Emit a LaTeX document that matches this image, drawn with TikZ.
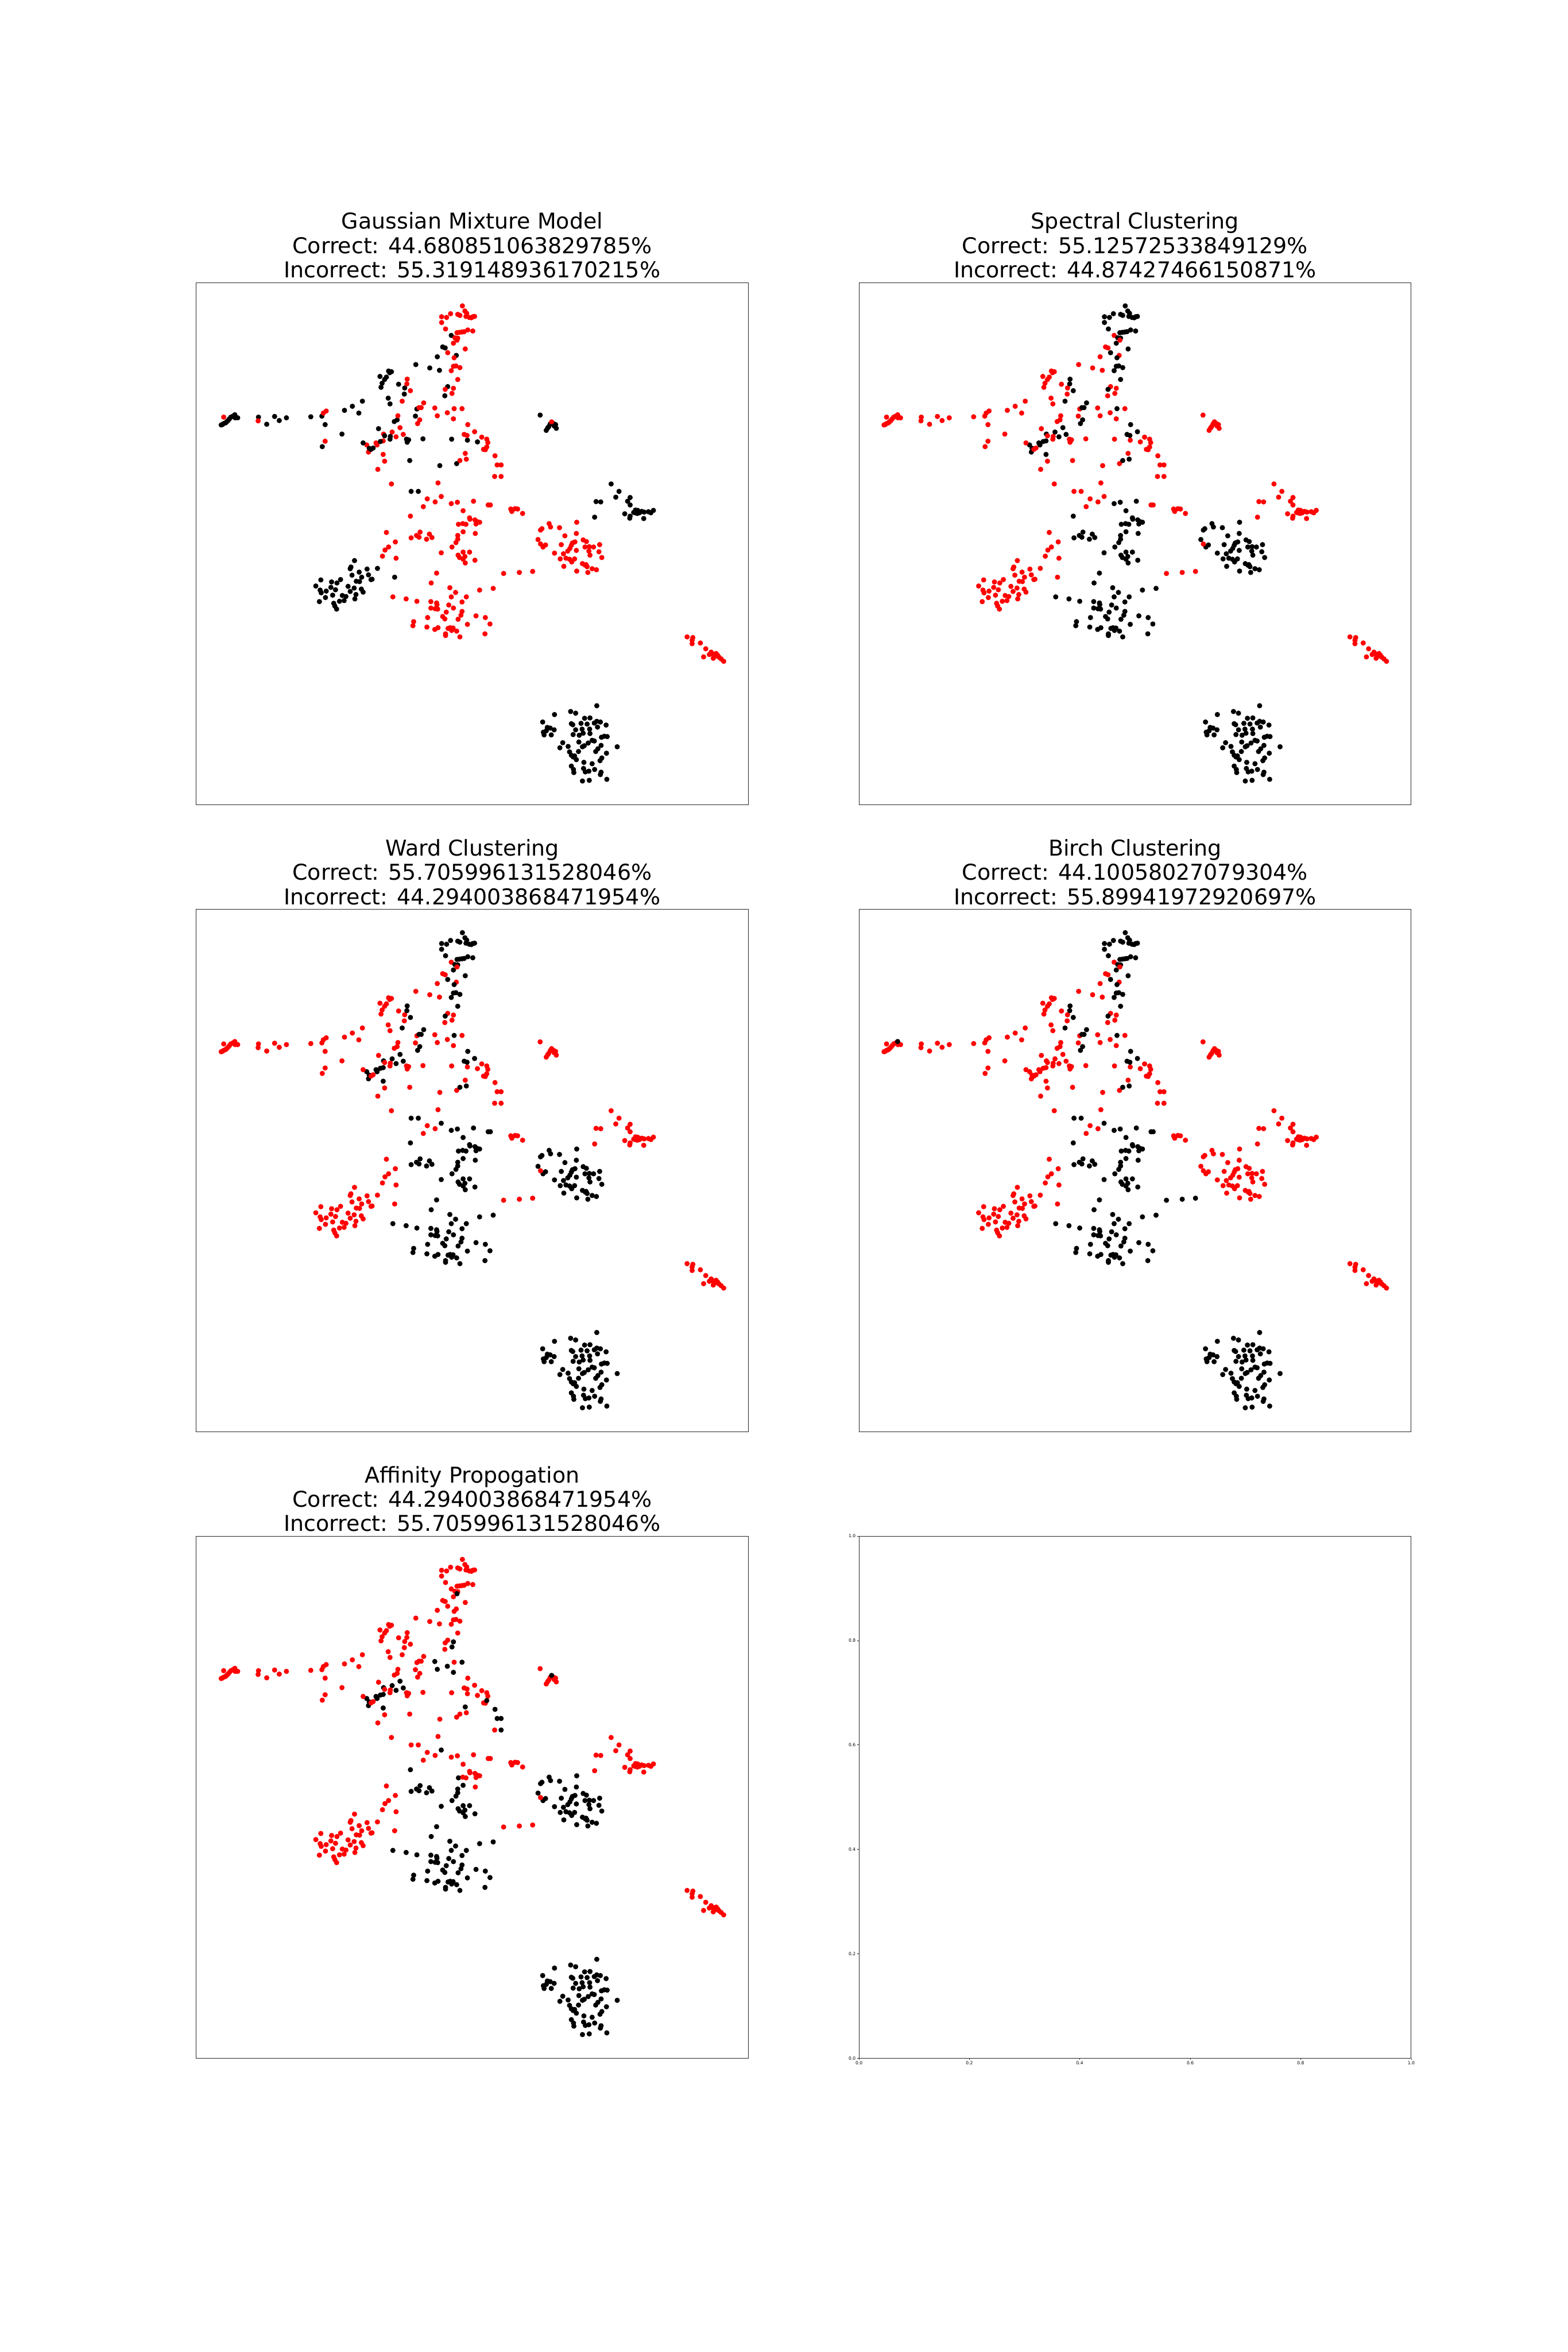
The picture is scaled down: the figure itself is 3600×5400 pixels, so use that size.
\documentclass[tikz,border=0pt]{standalone}
\usepackage{fontspec}
\setmainfont{DejaVu Sans}
\usepackage{tikz}

\colorlet{ptr}{red}
\colorlet{ptb}{black}

\tikzset{
  axframe/.style={draw=black!85, line width=0.011cm},
  ttl/.style={font=\fontsize{14.23}{17}\selectfont, anchor=base, inner sep=0pt},
  ticklab/.style={font=\fontsize{2.85}{3.4}\selectfont, inner sep=0pt},
  tickmark/.style={black!85, line width=0.009cm},
  dot/.style={radius=0.06cm},
}

\newcommand{\pickcol}[6]{\ifcase#1\or#2\or#3\or#4\or#5\or#6\fi}
\newcommand{\grp}[3]{%
  \edef\dotcol{\pickcol{#1}#2}%
  \foreach \px/\py in {#3}{\fill[pt\dotcol, dot] (\px,\py) circle;}%
}

\newcommand{\allpoints}[1]{%
  \grp{#1}{bbbbb}{1133/1259, 1015/1285, 1060/1276, 1074/1281, 982/1307, 1099/1296, 1114/1295, 1062/1312, 1066/1315, 1089/1311, 1106/1313, 1126/1310, 1133/1305, 1143/1307, 1159/1316, 995/1323, 1003/1325, 1014/1330, 992/1333, 984/1337, 986/1345, 1006/1345, 1074/1330, 1092/1328, 1113/1328, 1135/1322, 1067/1344, 1084/1346, 1095/1340, 1114/1341, 1154/1349, 1162/1350, 1146/1352, 1038/1368, 1053/1379, 1030/1383, 1083/1366, 1098/1377, 1093/1380, 1109/1369, 1120/1361, 1126/1363, 1145/1376, 1190/1380, 1057/1395, 1082/1394, 1130/1394, 1136/1386, 1160/1399, 1062/1405, 1067/1410, 1071/1407, 1076/1418, 1147/1413, 1142/1421, 1097/1426, 1120/1430, 1062/1437, 1068/1447, 1096/1444, 1111/1452, 1101/1454, 1127/1447, 1145/1455, 1069/1456, 1093/1481, 1112/1479, 1161/1476, 1143/1462}%
  \grp{#1}{rbbbb}{686/868, 671/897, 723/911, 739/925, 769/938, 727/938, 564/938, 601/944, 631/951, 670/952, 686/956, 687/961, 670/971, 682/973, 689/974, 720/962, 733/971, 757/953, 757/981, 713/983, 703/996, 709/1003, 661/999, 746/1004, 754/992, 796/994, 822/999, 772/1019, 835/1018, 622/1011, 620/1023, 659/1027, 690/1029, 681/1034, 718/1031, 724/1029, 732/1030, 728/1037, 742/1039, 711/1047, 711/1052, 751/1056, 821/1047, 806/918, 844/913, 613/700, 747/724, 760/746, 745/757, 640/747, 630/757, 615/764, 637/762, 666/753, 658/768, 673/763, 745/768, 740/778, 729/791, 699/808, 760/806, 778/806, 746/815, 750/822, 765/819, 760/827, 766/838, 793/830}%
  \grp{#1}{rbbrb}{1077/718, 1000/722, 1004/732, 976/741, 980/737, 1029/734, 1076/751, 1044/758, 1034/784, 969/769, 990/785, 983/791, 1065/779, 1072/776, 1062/786, 1058/795, 1052/803, 1040/811, 1095/770, 1104/775, 1100/791, 1112/790, 1124/791, 1141/784, 1076/801, 1111/803, 1139/805, 1147/822, 1114/815, 1047/824, 1031/826, 1057/827, 1071/826, 1063/835, 1041/848, 1093/840, 1103/843, 1106/849, 1101/845, 1077/862, 1108/866, 1120/855, 1132/858, 1015/809, 584/439, 562/452, 573/466, 593/459, 538/458, 537/478, 517/484, 520/490, 491/490, 496/511, 537/518}%
  \grp{#1}{bbbrb}{498/500, 529/480}%
  \grp{#1}{brrrr}{1173/605, 1195/627, 1186/644, 1226/645, 1219/656, 1226/667, 1131/657, 1144/658, 1127/703, 1211/693, 1226/700, 1225/706, 1236/689, 1241/682, 1247/683, 1252/690, 1258/686, 1265/688, 1277/687, 1284/690, 1291/683, 1264/707, 1246/692, 1240/690}%
  \grp{#1}{brrrr}{457/831, 447/850, 445/855, 492/856, 470/865, 450/874, 477/880, 496/873, 503/887, 506/886, 462/892, 471/893, 363/888, 393/894, 408/897, 418/887, 349/906, 391/910, 404/917, 439/907, 456/912, 476/915, 481/924, 361/918, 364/926, 378/921, 445/922, 461/931, 396/933, 423/934, 433/937, 376/940, 359/952, 415/951, 428/949, 458/944, 399/957, 402/965, 407/974, 521/854, 569/880}%
  \grp{#1}{brrrr}{975/402, 1012/427, 1018/430, 1003/428, 999/436, 996/440, 992/447, 1020/441, 1014/434}%
  \grp{#1}{brrrr}{85/431, 88/430, 92/427, 97/425, 100/422, 104/418, 108/413, 112/408, 118/405, 124/410, 131/410, 189/408, 212/429, 234/406, 247/418, 267/410, 335/407, 366/405, 375/430, 367/495, 422/458, 429/388, 451/376, 479/361, 469/396}%
  \grp{#1}{brrrr}{528/288, 534/308, 531/320, 541/297, 546/290, 555/277, 560/274, 552/272, 580/311, 597/322, 596/340, 551/352, 556/369, 631/384, 627/405, 576/416, 568/421, 524/442, 541/463, 557/465, 556/473, 602/473, 608/475, 604/482, 648/472, 611/536, 481/484, 503/503, 509/499}%
  \grp{#1}{brrrr}{727/167, 703/201, 710/204, 688/230, 741/226, 628/253, 667/263, 694/270, 717/318, 709/345, 728/473, 772/476, 800/481, 742/545, 695/551}%
  \grp{#1}{rrrrr}{1385/1056, 1401/1058, 1399/1066, 1399/1076, 1422/1074, 1437/1091, 1452/1101, 1447/1108, 1456/1106, 1466/1105, 1463/1113, 1431/1115, 1458/1119, 1474/1116, 1480/1121, 1487/1128, 1470/1110}%
  \grp{#1}{rrrrr}{92/408, 188/419, 370/396, 378/390, 375/479, 560/605, 690/602, 660/649, 682/658, 649/672, 546/748, 571/776, 552/791, 542/800, 535/818, 573/824, 893/679, 905/678, 912/679, 896/686, 926/692, 976/782, 812/467, 826/473, 829/483, 822/504, 817/503, 848/583, 541/538, 522/562, 578/404}%
  \grp{#1}{rbbbr}{758/80, 725/103, 745/105, 751/108, 765/95, 770/102, 768/111, 777/114, 787/112, 792/111, 783/115, 700/112, 714/114, 700/129, 711/148, 743/159, 750/158, 757/157, 763/156, 773/151, 787/154, 737/174, 745/175, 733/190, 766/207, 717/218}%
  \grp{#1}{rbbbr}{735/233, 733/258, 740/257, 751/262, 727/271, 745/297, 710/326, 735/383, 773/430, 763/459, 771/462, 792/451, 769/532, 751/536, 727/663, 744/659, 789/656, 760/684, 778/705, 779/709, 793/711, 799/716, 806/718, 796/723, 759/722, 768/724, 794/751, 604/296, 603/310, 613/330, 590/361, 637/380, 643/380, 650/366, 639/416, 633/427}%
  \grp{#1}{rrrrb}{743/181, 733/323, 729/338, 681/381, 688/404, 716/395, 757/383, 733/413, 826/496, 849/522, 766/515, 855/549, 866/549, 866/583, 1007/422}%
  \grp{#1}{brbbr}{615/627, 635/627}%
  \grp{#1}{rrbbb}{699/642}%
  \grp{#1}{rrbbr}{830/667, 836/667}%
  \grp{#1}{rrrbr}{873/869, 917/866, 954/863}%
  \grp{#1}{brrbr}{123/401}%
}

\begin{document}
\begin{tikzpicture}[x=0.01cm, y=-0.01cm]
\useasboundingbox (0,0) rectangle (3600,5400);

% Gaussian Mixture Model
\node[ttl] (gmmname) at (1084.3,526) {Gaussian Mixture Model};
\node[ttl] (gmmok) at (1084.3,582) {Correct: 44.680851063829785\%};
\node[ttl] (gmmbad) at (1084.3,638) {Incorrect: 55.319148936170215\%};
\begin{scope}[shift={(450.3,648.6)}]
  \begin{scope}[x=0.0082284cm, y=-0.0077806cm, shift={(-15,-11)}]
    \allpoints{1}
  \end{scope}
  \draw[axframe] (0,0) rectangle (1268,1199);
\end{scope}

% Spectral Clustering
\node[ttl] (specname) at (2606.3,526) {Spectral Clustering};
\node[ttl] (specok) at (2606.3,582) {Correct: 55.12572533849129\%};
\node[ttl] (specbad) at (2606.3,638) {Incorrect: 44.87427466150871\%};
\begin{scope}[shift={(1972.3,648.6)}]
  \begin{scope}[x=0.0082284cm, y=-0.0077806cm, shift={(-15,-11)}]
    \allpoints{2}
  \end{scope}
  \draw[axframe] (0,0) rectangle (1268,1199);
\end{scope}

% Ward Clustering
\node[ttl] (wardname) at (1084.3,1965) {Ward Clustering};
\node[ttl] (wardok) at (1084.3,2021) {Correct: 55.705996131528046\%};
\node[ttl] (wardbad) at (1084.3,2077) {Incorrect: 44.294003868471954\%};
\begin{scope}[shift={(450.3,2087.6)}]
  \begin{scope}[x=0.0082284cm, y=-0.0077806cm, shift={(-15,-11)}]
    \allpoints{3}
  \end{scope}
  \draw[axframe] (0,0) rectangle (1268,1199);
\end{scope}

% Birch Clustering
\node[ttl] (birchname) at (2606.3,1965) {Birch Clustering};
\node[ttl] (birchok) at (2606.3,2021) {Correct: 44.10058027079304\%};
\node[ttl] (birchbad) at (2606.3,2077) {Incorrect: 55.89941972920697\%};
\begin{scope}[shift={(1972.3,2087.6)}]
  \begin{scope}[x=0.0082284cm, y=-0.0077806cm, shift={(-15,-11)}]
    \allpoints{4}
  \end{scope}
  \draw[axframe] (0,0) rectangle (1268,1199);
\end{scope}

% Affinity Propogation
\node[ttl] (apname) at (1084.3,3404) {Affinity Propogation};
\node[ttl] (apok) at (1084.3,3460) {Correct: 44.294003868471954\%};
\node[ttl] (apbad) at (1084.3,3516) {Incorrect: 55.705996131528046\%};
\begin{scope}[shift={(450.3,3526.6)}]
  \begin{scope}[x=0.0082284cm, y=-0.0077806cm, shift={(-15,-11)}]
    \allpoints{5}
  \end{scope}
  \draw[axframe] (0,0) rectangle (1268,1199);
\end{scope}

% empty axes
\draw[axframe] (1972.3,3526.6) rectangle (3240.3,4725.6);
\foreach \t/\lab in {0/0.0, 1/0.2, 2/0.4, 3/0.6, 4/0.8, 5/1.0} {
  \draw[tickmark] ({1972.3+\t*253.6},4725.6) -- ({1972.3+\t*253.6},4729.1);
  \node[ticklab, anchor=north] (xt\t) at ({1972.3+\t*253.6},4732.6) {\lab};
  \draw[tickmark] (1972.3,{4725.6-\t*239.8}) -- (1968.8,{4725.6-\t*239.8});
  \node[ticklab, anchor=east] (yt\t) at (1965.3,{4725.6-\t*239.8}) {\lab};
}
\end{tikzpicture}
\end{document}
